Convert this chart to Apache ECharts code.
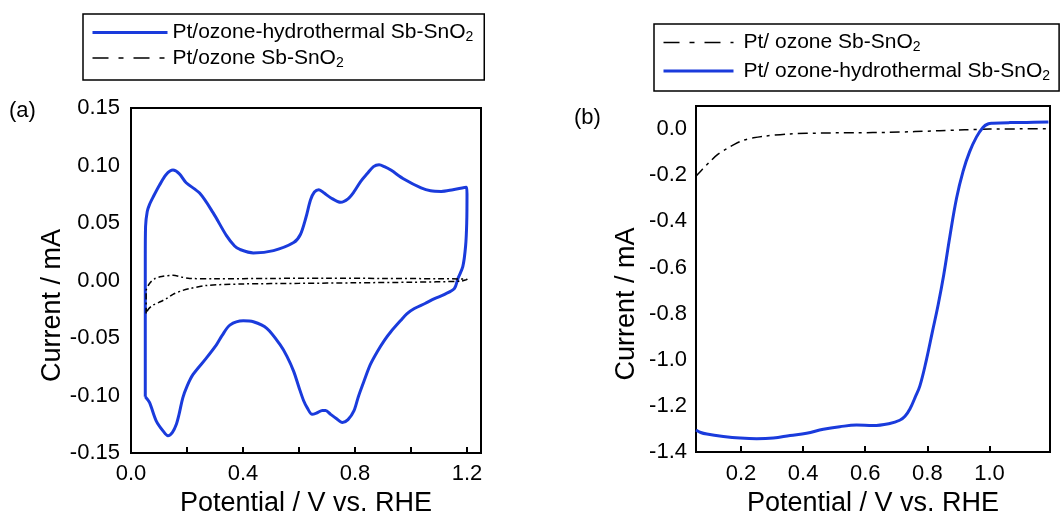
<!DOCTYPE html>
<html>
<head>
<meta charset="utf-8">
<script src="https://cdn.jsdelivr.net/npm/echarts@6/dist/echarts.min.js"></script>
<style>html,body{margin:0;padding:0;background:#fff;}#c{width:1061px;height:522px;}</style>
</head>
<body>
<div id="c"></div>
<script>
// ---------- Data ----------
// Panel (a): cyclic voltammograms (V vs RHE, mA)
const cvHydroV = [0.051,0.051,0.051,0.052,0.058,0.066,0.080,0.102,0.125,0.150,0.172,0.197,0.245,0.293,0.341,0.370,0.389,0.437,0.509,0.581,0.605,0.625,0.641,0.655,0.671,0.690,0.713,0.749,0.775,0.796,0.820,0.844,0.866,0.886,0.905,0.928,0.976,1.036,1.070,1.108,1.150,1.198,1.200,1.199,1.195,1.185,1.168,1.155,1.120,1.084,1.050,1.012,0.985,0.964,0.928,0.905,0.880,0.855,0.832,0.812,0.796,0.775,0.755,0.733,0.713,0.695,0.683,0.665,0.647,0.630,0.617,0.600,0.581,0.557,0.533,0.485,0.437,0.401,0.353,0.325,0.305,0.269,0.221,0.200,0.185,0.172,0.162,0.148,0.132,0.115,0.090,0.066,0.051];
const cvHydroI = [-0.101,-0.030,0.020,0.047,0.060,0.066,0.073,0.083,0.092,0.096,0.093,0.085,0.076,0.059,0.039,0.030,0.027,0.024,0.026,0.033,0.040,0.055,0.070,0.077,0.079,0.076,0.072,0.068,0.071,0.077,0.086,0.093,0.099,0.1006,0.099,0.096,0.088,0.0805,0.078,0.0775,0.079,0.081,0.075,0.050,0.030,0.012,0.002,-0.007,-0.012,-0.0158,-0.020,-0.0244,-0.029,-0.0345,-0.0445,-0.052,-0.0617,-0.073,-0.0876,-0.101,-0.1134,-0.121,-0.1235,-0.120,-0.1164,-0.113,-0.113,-0.115,-0.1164,-0.111,-0.1048,-0.093,-0.079,-0.066,-0.056,-0.0416,-0.0359,-0.035,-0.0388,-0.048,-0.056,-0.0675,-0.0819,-0.092,-0.102,-0.116,-0.125,-0.132,-0.135,-0.131,-0.122,-0.106,-0.101];
const cvOzoneV = [0.054,0.054,0.065,0.084,0.110,0.150,0.180,0.210,0.300,0.500,0.700,0.900,1.100,1.200,1.180,1.000,0.800,0.600,0.400,0.270,0.210,0.185,0.150,0.126,0.100,0.078,0.062,0.054];
const cvOzoneI = [-0.0287,-0.009,-0.003,0.0015,0.0035,0.0045,0.003,0.0018,0.0015,0.0018,0.002,0.0018,0.0015,0.001,-0.0005,-0.0015,-0.002,-0.0025,-0.003,-0.0043,-0.007,-0.0086,-0.012,-0.0158,-0.019,-0.0215,-0.025,-0.0287];
// Panel (b): linear sweep voltammograms
const lsvOzoneV = [0.055,0.075,0.100,0.125,0.154,0.180,0.207,0.240,0.272,0.358,0.465,0.570,0.679,0.760,0.840,0.920,1.000,1.100,1.190];
const lsvOzoneI = [-0.204,-0.175,-0.141,-0.110,-0.085,-0.065,-0.049,-0.038,-0.031,-0.021,-0.017,-0.016,-0.014,-0.011,-0.007,-0.003,0.000,0.001,0.002];
const lsvHydroV = [0.055,0.070,0.090,0.143,0.197,0.250,0.304,0.358,0.411,0.465,0.518,0.572,0.625,0.679,0.711,0.728,0.745,0.760,0.776,0.797,0.816,0.835,0.853,0.872,0.894,0.915,0.936,0.958,0.979,0.995,1.011,1.065,1.120,1.190];
const lsvHydroI = [-1.304,-1.315,-1.322,-1.332,-1.339,-1.342,-1.339,-1.328,-1.318,-1.301,-1.290,-1.283,-1.285,-1.276,-1.262,-1.245,-1.210,-1.165,-1.113,-1.000,-0.880,-0.760,-0.630,-0.470,-0.300,-0.183,-0.099,-0.035,0.007,0.022,0.025,0.028,0.029,0.031];
// Tick labels
const xTicksA = [0.0,0.4,0.8,1.2];
const xMinorA = [0.2,0.4,0.6,0.8,1.0,1.2];
const yTicksA = [-0.15,-0.10,-0.05,0.00,0.05,0.10,0.15];
const xTicksB = [0.2,0.4,0.6,0.8,1.0];
const yTicksB = [-1.4,-1.2,-1.0,-0.8,-0.6,-0.4,-0.2,0.0];
// Names
const nHydroA = 'Pt/ozone-hydrothermal Sb-SnO2';
const nOzoneA = 'Pt/ozone Sb-SnO2';
const nOzoneB = 'Pt/ ozone Sb-SnO2';
const nHydroB = 'Pt/ ozone-hydrothermal Sb-SnO2';

// ---------- Chart ----------
const FONT = 'Liberation Sans';
const BLUE = '#1a3bdc';
const zip = (a, b) => a.map((v, i) => [v, b[i]]);
const chart = echarts.init(document.getElementById('c'));

function xAxis(gi, min, max, labels, ticks, nameGap, margin) {
  return {
    gridIndex: gi, type: 'value', min: min, max: max,
    name: 'Potential / V vs. RHE', nameLocation: 'middle', nameGap: nameGap,
    nameTextStyle: {fontFamily: FONT, fontSize: 27, color: '#000'},
    axisLine: {show: true, onZero: false, lineStyle: {color: '#000', width: 2}},
    axisTick: {show: true, inside: true, length: 6, customValues: ticks, lineStyle: {color: '#000', width: 2}},
    axisLabel: {customValues: labels, margin: margin, fontFamily: FONT, fontSize: 22, color: '#000',
      formatter: v => Number(v).toFixed(1)},
    splitLine: {show: false}
  };
}
function yAxis(gi, min, max, labels, dec, nameGap, margin) {
  return {
    gridIndex: gi, type: 'value', min: min, max: max,
    name: 'Current / mA', nameLocation: 'middle', nameGap: nameGap,
    nameTextStyle: {fontFamily: FONT, fontSize: 27, color: '#000', padding: [0, 50, 0, 0]},
    axisLine: {show: true, onZero: false, lineStyle: {color: '#000', width: 2}},
    axisTick: {show: false},
    axisLabel: {customValues: labels, margin: margin, fontFamily: FONT, fontSize: 22, color: '#000',
      formatter: v => Number(v).toFixed(dec)},
    splitLine: {show: false}
  };
}
const legendFmt = name => '{t|' + name.slice(0, -1) + '}{s|' + name.slice(-1) + '}';
const legendRich = {
  t: {fontFamily: FONT, fontSize: 21, color: '#000', lineHeight: 24},
  s: {fontFamily: FONT, fontSize: 14, color: '#000', lineHeight: 14, verticalAlign: 'bottom'}
};
const dashA = [6, 3, 2, 3];
const dashB = [10, 5, 3, 5];
const noSym = {opacity: 0, borderWidth: 0};
const legBlue = {color: BLUE, width: 3, type: 'solid'};
const legBlack = {color: '#000', width: 1.5, type: [16, 10, 5, 10]};

chart.setOption({
  animation: false,
  backgroundColor: '#fff',
  title: [
    {text: '(a)', left: 9, top: 100, padding: 0, textStyle: {fontFamily: FONT, fontSize: 22, fontWeight: 'normal', color: '#000'}},
    {text: '(b)', left: 574, top: 107, padding: 0, textStyle: {fontFamily: FONT, fontSize: 22, fontWeight: 'normal', color: '#000'}}
  ],
  legend: [
    {left: 83, top: 14, orient: 'vertical', selectedMode: false, borderColor: '#000', borderWidth: 1.5,
     padding: [8, 11, 10, 8], itemGap: 3, itemWidth: 75, itemHeight: 14, itemStyle: noSym,
     data: [{name: nHydroA, itemStyle: noSym, lineStyle: legBlue}, {name: nOzoneA, itemStyle: noSym, lineStyle: legBlack}],
     formatter: legendFmt, textStyle: {rich: legendRich}},
    {left: 654, top: 24, orient: 'vertical', selectedMode: false, borderColor: '#000', borderWidth: 1.5,
     padding: [8, 9, 8, 8], itemGap: 6, itemWidth: 70, itemHeight: 14, itemStyle: noSym,
     data: [{name: nOzoneB, itemStyle: noSym, lineStyle: legBlack}, {name: nHydroB, itemStyle: noSym, lineStyle: legBlue}],
     formatter: legendFmt, textStyle: {rich: {t: Object.assign({padding: [0, 0, 0, 5]}, legendRich.t), s: legendRich.s}}}
  ],
  grid: [
    {left: 131, top: 108, width: 350, height: 349, show: true, borderColor: '#000', borderWidth: 2, backgroundColor: 'transparent'},
    {left: 696, top: 106, width: 354, height: 354, show: true, borderColor: '#000', borderWidth: 2, backgroundColor: 'transparent'}
  ],
  xAxis: [
    xAxis(0, 0, 1.25, xTicksA, xMinorA, 37, 10),
    xAxis(1, 0.055, 1.195, xTicksB, xTicksB, 36, 11)
  ],
  yAxis: [
    yAxis(0, -0.15, 0.15, yTicksA, 2, 53, 11),
    yAxis(1, -1.4, 0.1, yTicksB, 1, 56, 9)
  ],
  series: [
    {name: nHydroA, type: 'line', xAxisIndex: 0, yAxisIndex: 0, data: zip(cvHydroV, cvHydroI),
     symbol: 'none', smooth: 0.3, lineStyle: {color: BLUE, width: 3}, itemStyle: {color: BLUE}},
    {name: nOzoneA, type: 'line', xAxisIndex: 0, yAxisIndex: 0, data: zip(cvOzoneV, cvOzoneI),
     symbol: 'none', smooth: 0.3, lineStyle: {color: '#000', width: 1.5, type: dashA}, itemStyle: {color: '#000'}},
    {name: nOzoneB, type: 'line', xAxisIndex: 1, yAxisIndex: 1, data: zip(lsvOzoneV, lsvOzoneI),
     symbol: 'none', smooth: 0.3, lineStyle: {color: '#000', width: 1.5, type: dashB}, itemStyle: {color: '#000'}},
    {name: nHydroB, type: 'line', xAxisIndex: 1, yAxisIndex: 1, data: zip(lsvHydroV, lsvHydroI),
     symbol: 'none', smooth: 0.4, lineStyle: {color: BLUE, width: 3}, itemStyle: {color: BLUE}}
  ]
});
</script>
</body>
</html>
